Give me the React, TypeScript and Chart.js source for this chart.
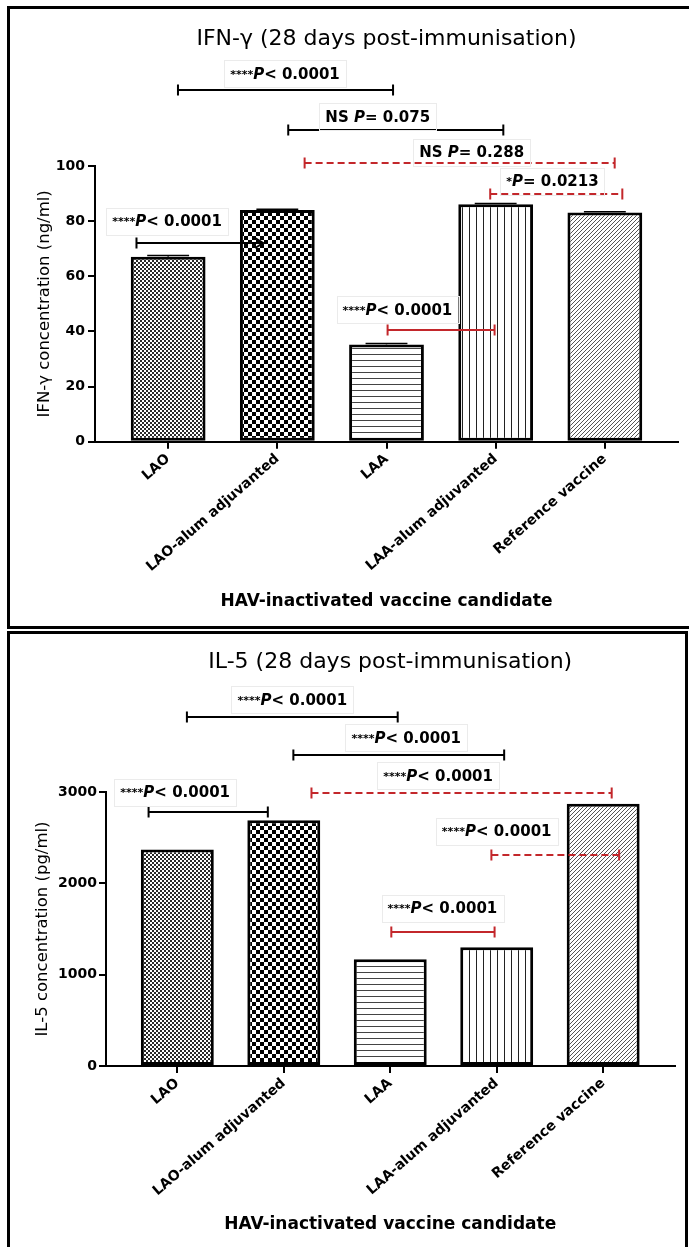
import React, { useEffect, useRef } from 'react';
import { Chart, registerables } from 'chart.js';

Chart.register(...registerables);

const FONT = "'DejaVu Sans', 'Liberation Sans', sans-serif";
const RED = '#c3272b';

// ---------- data ----------
const categories = ['LAO', 'LAO-alum adjuvanted', 'LAA', 'LAA-alum adjuvanted', 'Reference vaccine'];

const ifnValues = [67.1, 84.0, 35.3, 86.1, 83.1];
const ifnErrors = [0.4, 0.3, 0.3, 0.3, 0.3];
const ifnTicks = [0, 20, 40, 60, 80, 100];

const il5Values = [2370, 2690, 1170, 1300, 2870];
const il5Errors = [0, 0, 0, 0, 0];
const il5Ticks = [0, 1000, 2000, 3000];

type Cmp = {
  from: number; to: number; at: number;
  label: string; labelX: number; labelAt: number;
  red: boolean; dashed: boolean; arrow?: boolean;
};

// comparison brackets (x in category index units, y in data units)
const ifnComparisons: Cmp[] = [
  { from: 0.09, to: 2.06, at: 127.6, label: '****P< 0.0001', labelX: 1.07, labelAt: 133.7, red: false, dashed: false },
  { from: 1.10, to: 3.07, at: 113.1, label: 'NS P= 0.075', labelX: 1.92, labelAt: 118.1, red: false, dashed: false },
  { from: 1.25, to: 4.09, at: 101.1, label: 'NS P= 0.288', labelX: 2.78, labelAt: 105.1, red: true, dashed: true },
  { from: 2.95, to: 4.16, at: 89.8, label: '*P= 0.0213', labelX: 3.52, labelAt: 94.7, red: true, dashed: true },
  { from: -0.29, to: 0.87, at: 72.1, label: '****P< 0.0001', labelX: -0.01, labelAt: 80.1, red: false, dashed: false, arrow: true },
  { from: 2.01, to: 2.99, at: 40.5, label: '****P< 0.0001', labelX: 2.1, labelAt: 48.1, red: true, dashed: false },
];

const il5Comparisons: Cmp[] = [
  { from: 0.09, to: 2.07, at: 3825, label: '****P< 0.0001', labelX: 1.08, labelAt: 4018, red: false, dashed: false },
  { from: 1.09, to: 3.07, at: 3405, label: '****P< 0.0001', labelX: 2.15, labelAt: 3602, red: false, dashed: false },
  { from: 1.26, to: 4.08, at: 2985, label: '****P< 0.0001', labelX: 2.45, labelAt: 3186, red: true, dashed: true },
  { from: -0.27, to: 0.85, at: 2784, label: '****P< 0.0001', labelX: -0.02, labelAt: 3003, red: false, dashed: false },
  { from: 2.95, to: 4.15, at: 2310, label: '****P< 0.0001', labelX: 3.0, labelAt: 2576, red: true, dashed: true },
  { from: 2.01, to: 2.98, at: 1470, label: '****P< 0.0001', labelX: 2.49, labelAt: 1730, red: true, dashed: false },
];

// ---------- helpers ----------
function makePatterns(): (CanvasPattern | string)[] {
  const mk = (w: number, h: number, draw: (g: CanvasRenderingContext2D) => void) => {
    const c = document.createElement('canvas');
    c.width = w; c.height = h;
    const g = c.getContext('2d')!;
    g.fillStyle = '#fff';
    g.fillRect(0, 0, w, h);
    draw(g);
    return g.createPattern(c, 'repeat') || '#888';
  };
  const fineCheck = mk(4, 4, (g) => { g.fillStyle = '#2a2a2a'; g.fillRect(0, 0, 2, 2); g.fillRect(2, 2, 2, 2); });
  const coarseCheck = mk(8, 8, (g) => { g.fillStyle = '#000'; g.fillRect(0, 0, 4, 4); g.fillRect(4, 4, 4, 4); });
  const hLines = mk(6, 6, (g) => { g.fillStyle = '#444'; g.fillRect(0, 0, 6, 1); });
  const vLines = mk(7, 7, (g) => { g.fillStyle = '#222'; g.fillRect(0, 0, 1, 7); });
  const diag = mk(4, 4, (g) => { g.fillStyle = '#555'; for (let i = 0; i < 4; i++) g.fillRect(i, 3 - i, 1, 1); });
  return [fineCheck, coarseCheck, hLines, vLines, diag];
}

function drawLabel(ctx: CanvasRenderingContext2D, text: string, cx: number, cy: number) {
  const m = text.match(/^(\**)(.*?)P(.*)$/);
  const stars = m ? m[1] : '';
  const pre = m ? m[2] : text;
  const post = m ? m[3] : '';
  const big = `bold 15px ${FONT}`;
  const small = `bold 11px ${FONT}`;
  const ital = `italic bold 15px ${FONT}`;
  const segs = [
    { t: stars, f: small, dy: -1 },
    { t: pre, f: big, dy: 0 },
    { t: m ? 'P' : '', f: ital, dy: 0 },
    { t: post, f: big, dy: 0 },
  ];
  let total = 0;
  const widths = segs.map((s) => { ctx.font = s.f; const w = s.t ? ctx.measureText(s.t).width : 0; total += w; return w; });
  let x = cx - total / 2;
  ctx.strokeStyle = '#ebebeb';
  ctx.lineWidth = 1;
  ctx.setLineDash([]);
  ctx.strokeRect(Math.round(x - 6) + 0.5, Math.round(cy - 13) + 0.5, Math.round(total + 12), 27);
  ctx.fillStyle = '#000';
  ctx.textAlign = 'left';
  ctx.textBaseline = 'alphabetic';
  const base = cy + 5.5;
  segs.forEach((s, i) => {
    if (s.t) { ctx.font = s.f; ctx.fillText(s.t, x, base + s.dy); }
    x += widths[i];
  });
}

type Spec = {
  title: string; titleY: number; yTitle: string;
  yMax: number; yTicks: number[]; values: number[]; errors: number[];
  comparisons: Cmp[];
  height: number; padTop: number; padRight: number; yAxisWidth: number;
  xAxisHeight: number; xTitlePadBottom: number; yTitlePadTop: number; yTickPad: number;
};

function annotatePlugin(spec: Spec) {
  return {
    id: 'annotate',
    afterDraw(chart: any) {
      const { ctx, chartArea } = chart;
      const xs = chart.scales.x;
      const ys = chart.scales.y;
      ctx.save();
      // title
      ctx.font = `22px ${FONT}`;
      ctx.fillStyle = '#000';
      ctx.textAlign = 'center';
      ctx.textBaseline = 'middle';
      ctx.fillText(spec.title, (chartArea.left + chartArea.right) / 2, spec.titleY);

      // error caps
      const meta = chart.getDatasetMeta(0);
      spec.errors.forEach((e, i) => {
        if (!e) return;
        const bar = meta.data[i];
        const cx = xs.getPixelForValue(i);
        const yTop = ys.getPixelForValue(spec.values[i] + e);
        const yV = ys.getPixelForValue(spec.values[i]);
        const hw = bar.width * 0.28;
        ctx.strokeStyle = '#000';
        ctx.lineWidth = 1.5;
        ctx.beginPath();
        ctx.moveTo(cx, yV); ctx.lineTo(cx, yTop);
        ctx.moveTo(cx - hw, yTop); ctx.lineTo(cx + hw, yTop);
        ctx.stroke();
      });

      // comparison brackets
      spec.comparisons.forEach((c) => {
        const x1 = xs.getPixelForValue(c.from);
        const x2 = xs.getPixelForValue(c.to);
        const y = Math.round(ys.getPixelForValue(c.at));
        ctx.strokeStyle = c.red ? RED : '#000';
        ctx.lineWidth = 2;
        ctx.setLineDash(c.dashed ? [7, 4] : []);
        ctx.beginPath();
        ctx.moveTo(x1, y); ctx.lineTo(x2, y);
        ctx.stroke();
        ctx.setLineDash([]);
        ctx.beginPath();
        ctx.moveTo(x1, y - 5.5); ctx.lineTo(x1, y + 5.5);
        if (c.arrow) {
          ctx.moveTo(x2 - 8, y - 5); ctx.lineTo(x2, y); ctx.lineTo(x2 - 8, y + 5);
        } else {
          ctx.moveTo(x2, y - 5.5); ctx.lineTo(x2, y + 5.5);
        }
        ctx.stroke();
        drawLabel(ctx, c.label, xs.getPixelForValue(c.labelX), ys.getPixelForValue(c.labelAt));
      });
      ctx.restore();
    },
  };
}

function buildConfig(spec: Spec, patterns: (CanvasPattern | string)[]): any {
  const tickFont = { family: FONT, size: 14, weight: 'bold' as const };
  return {
    type: 'bar',
    data: {
      datasets: [{
        data: spec.values.map((v, i) => ({ x: i, y: v })),
        backgroundColor: patterns,
        borderColor: '#000',
        borderWidth: 3,
        borderSkipped: false,
        categoryPercentage: 1,
        barPercentage: 0.685,
      }],
    },
    options: {
      responsive: false,
      animation: false,
      events: [],
      layout: { padding: { top: spec.padTop, right: spec.padRight, left: 0, bottom: 0 } },
      plugins: { legend: { display: false }, tooltip: { enabled: false }, title: { display: false } },
      scales: {
        x: {
          type: 'linear',
          offset: false,
          min: -0.67,
          max: 4.67,
          afterBuildTicks: (s: any) => { s.ticks = categories.map((_, i) => ({ value: i })); },
          afterFit: (s: any) => { s.height = spec.xAxisHeight; },
          ticks: {
            callback: (v: any) => categories[Math.round(Number(v))],
            font: tickFont,
            color: '#000',
            minRotation: 41,
            maxRotation: 41,
            autoSkip: false,
            padding: 2,
          },
          grid: { offset: false, drawOnChartArea: false, drawTicks: true, tickLength: 7, color: '#000', lineWidth: 2 },
          border: { display: true, color: '#000', width: 2 },
          title: {
            display: true,
            text: 'HAV-inactivated vaccine candidate',
            font: { family: FONT, size: 17, weight: 'bold' },
            color: '#000',
            padding: { top: 0, bottom: spec.xTitlePadBottom },
          },
        },
        y: {
          min: 0,
          max: spec.yMax,
          afterBuildTicks: (s: any) => { s.ticks = spec.yTicks.map((v) => ({ value: v })); },
          afterFit: (s: any) => { s.width = spec.yAxisWidth; },
          ticks: { font: tickFont, color: '#000', padding: spec.yTickPad, callback: (v: any) => String(v) },
          grid: { drawOnChartArea: false, drawTicks: true, tickLength: 7, color: '#000', lineWidth: 2 },
          border: { display: true, color: '#000', width: 2 },
          title: {
            display: true,
            text: spec.yTitle,
            font: { family: FONT, size: 16.5, weight: 'normal' },
            color: '#000',
            padding: { top: spec.yTitlePadTop, bottom: 0 },
          },
        },
      },
    },
    plugins: [annotatePlugin(spec)],
  };
}

const ifnSpec: Spec = {
  title: 'IFN-γ (28 days post-immunisation)', titleY: 39,
  yTitle: 'IFN-γ concentration (ng/ml)',
  yMax: 100, yTicks: ifnTicks, values: ifnValues, errors: ifnErrors, comparisons: ifnComparisons,
  height: 630, padTop: 166, padRight: 11, yAxisWidth: 95,
  xAxisHeight: 188.3, xTitlePadBottom: 17.8, yTitlePadTop: 34.6, yTickPad: 3,
};

const il5Spec: Spec = {
  title: 'IL-5 (28 days post-immunisation)', titleY: 32.5,
  yTitle: 'IL-5 concentration (pg/ml)',
  yMax: 3000, yTicks: il5Ticks, values: il5Values, errors: il5Errors, comparisons: il5Comparisons,
  height: 617, padTop: 162, padRight: 14.5, yAxisWidth: 106,
  xAxisHeight: 181, xTitlePadBottom: 11.8, yTitlePadTop: 32.6, yTickPad: 2,
};

function Panel({ spec, top }: { spec: Spec; top: number }) {
  const ref = useRef<HTMLCanvasElement>(null);
  useEffect(() => {
    if (!ref.current) return;
    const chart = new Chart(ref.current, buildConfig(spec, makePatterns()));
    return () => chart.destroy();
  }, []);
  return (
    <canvas
      ref={ref}
      width={689}
      height={spec.height}
      style={{ position: 'absolute', left: 0, top, width: 689, height: spec.height, display: 'block' }}
    />
  );
}

export default function App() {
  return (
    <div style={{ position: 'fixed', left: 0, top: 0, width: 689, height: 1247, overflow: 'hidden', background: '#fff' }}>
      <Panel spec={ifnSpec} top={0} />
      <Panel spec={il5Spec} top={630} />
      <div style={{ position: 'absolute', left: 7, top: 6, width: 720, height: 623, boxSizing: 'border-box', border: '3px solid #000', pointerEvents: 'none' }} />
      <div style={{ position: 'absolute', left: 7, top: 631, width: 681, height: 700, boxSizing: 'border-box', border: '3px solid #000', pointerEvents: 'none' }} />
    </div>
  );
}
